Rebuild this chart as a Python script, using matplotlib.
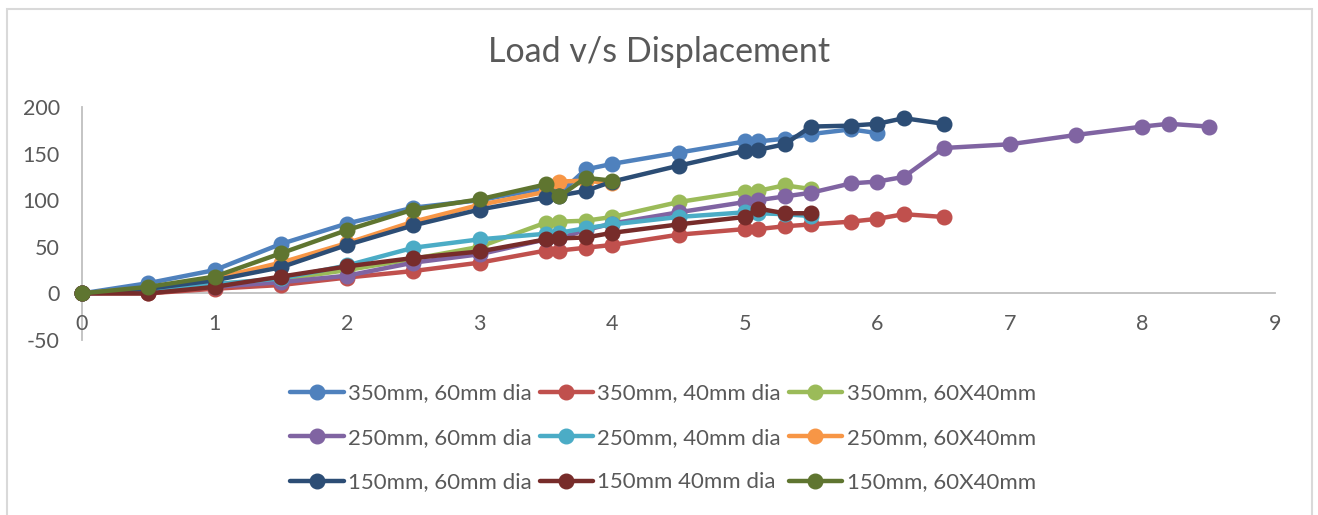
import matplotlib
matplotlib.use("Agg")
import matplotlib.pyplot as plt
from matplotlib.patches import Rectangle

plt.rcParams['font.family'] = ['Lato', 'DejaVu Sans']
plt.rcParams['axes.unicode_minus'] = False

# displacement steps shared by all the tests (mm)
disp_base = [0, 0.5, 1, 1.5, 2, 2.5, 3, 3.5, 3.6, 3.8, 4]
disp_to_55 = disp_base + [4.5, 5, 5.1, 5.3, 5.5]
disp_to_60 = disp_to_55 + [5.8, 6]
disp_to_65 = disp_to_60 + [6.2, 6.5]
disp_to_85 = disp_to_65 + [7, 7.5, 8, 8.2, 8.5]

labels = [
    "350mm, 60mm dia", "350mm, 40mm dia", "350mm, 60X40mm",
    "250mm, 60mm dia", "250mm, 40mm dia", "250mm, 60X40mm",
    "150mm, 60mm dia", "150mm 40mm dia", "150mm, 60X40mm",
]
colors = ["#4F81BD", "#C0504D", "#9BBB59",
          "#8064A2", "#4BACC6", "#F79646",
          "#2C4D75", "#772C2A", "#5F7530"]

load_350_60 = [0, 11, 25, 53, 75, 92, 100, 113, 107, 133, 139,
               151, 163, 163, 166, 171, 176, 172]
load_350_40 = [0, 0, 5, 9, 17, 24, 33, 46, 46, 49, 52,
               63, 69, 69, 72, 74, 77, 80, 85, 82]
load_350_6040 = [0, 5, 10, 15, 25, 37, 50, 76, 77, 78, 82,
                 98, 109, 110, 116, 112]
load_250_60 = [0, 2, 7, 12, 19, 33, 42, 58, 59, 68, 75,
               87, 98, 100, 104, 108, 118, 120, 125, 156,
               160, 170, 179, 182, 179]
load_250_40 = [0, 4, 10, 16, 30, 49, 58, 64, 65, 70, 74,
               82, 87, 86, 85, 83]
load_250_6040 = [0, 6, 16, 33, 54, 77, 95, 109, 120, 121, 118]
load_150_60 = [0, 5, 14, 28, 52, 73, 90, 103, 105, 110, 120,
               137, 153, 154, 160, 179, 180, 182, 188, 182]
load_150_40 = [0, 0, 7, 18, 29, 38, 45, 58, 59, 60, 65,
               74, 82, 91, 86, 86]
load_150_6040 = [0, 7, 18, 43, 68, 90, 101, 117, 104, 124, 121]

series = [
    (disp_to_60, load_350_60), (disp_to_65, load_350_40), (disp_to_55, load_350_6040),
    (disp_to_85, load_250_60), (disp_to_55, load_250_40), (disp_base, load_250_6040),
    (disp_to_65, load_150_60), (disp_to_55, load_150_40), (disp_base, load_150_6040),
]

x_ticks = list(range(0, 10))
y_ticks = [-50, 0, 50, 100, 150, 200]

txt = "#595959"
axis_col = "#BFBFBF"

fig = plt.figure(figsize=(13.18, 5.15), dpi=100)
fig.patches.append(Rectangle((7 / 1318, -0.05), 1305 / 1318, 1.05 - 9 / 515,
                             transform=fig.transFigure, fill=False,
                             edgecolor="#D9D9D9", linewidth=1.5))

ax = fig.add_axes([82 / 1318, 1 - 340 / 515, (1275 - 82) / 1318, (340 - 107) / 515])

handles = []
for (xs, ys), lab, c in zip(series, labels, colors):
    h, = ax.plot(xs, ys, color=c, lw=3.2, marker="o", ms=10.5,
                 solid_capstyle="round", label=lab)
    handles.append(h)

ax.set_xlim(0, 9)
ax.set_ylim(-50, 200)
ax.set_xticks(x_ticks)
ax.set_yticks(y_ticks)
for s in ["top", "right"]:
    ax.spines[s].set_visible(False)
ax.spines["bottom"].set_position(("data", 0))
ax.spines["left"].set_position(("data", 0))
for s in ["bottom", "left"]:
    ax.spines[s].set_color(axis_col)
    ax.spines[s].set_linewidth(1.3)
    ax.spines[s].set_zorder(0.5)
ax.tick_params(axis="x", length=0, pad=15, labelsize=15.5, labelcolor=txt)
ax.tick_params(axis="y", length=0, pad=16, labelsize=15.5, labelcolor=txt)
for h in handles:
    h.set_clip_on(False)

fig.text(0.5, 1 - 52 / 515, "Load v/s Displacement", ha="center", va="center",
         fontsize=24.5, color=txt)

# legend laid out row by row like the original (3 columns)
order = [0, 3, 6, 1, 4, 7, 2, 5, 8]
leg = fig.legend([handles[i] for i in order], [labels[i] for i in order],
                 ncol=3, loc="center", bbox_to_anchor=(663 / 1318, 1 - 438 / 515),
                 frameon=False, fontsize=16, handlelength=2.4, handletextpad=0.2,
                 columnspacing=0.35, labelspacing=1.1)
for t in leg.get_texts():
    t.set_color(txt)

fig.savefig("out.png", dpi=100)
